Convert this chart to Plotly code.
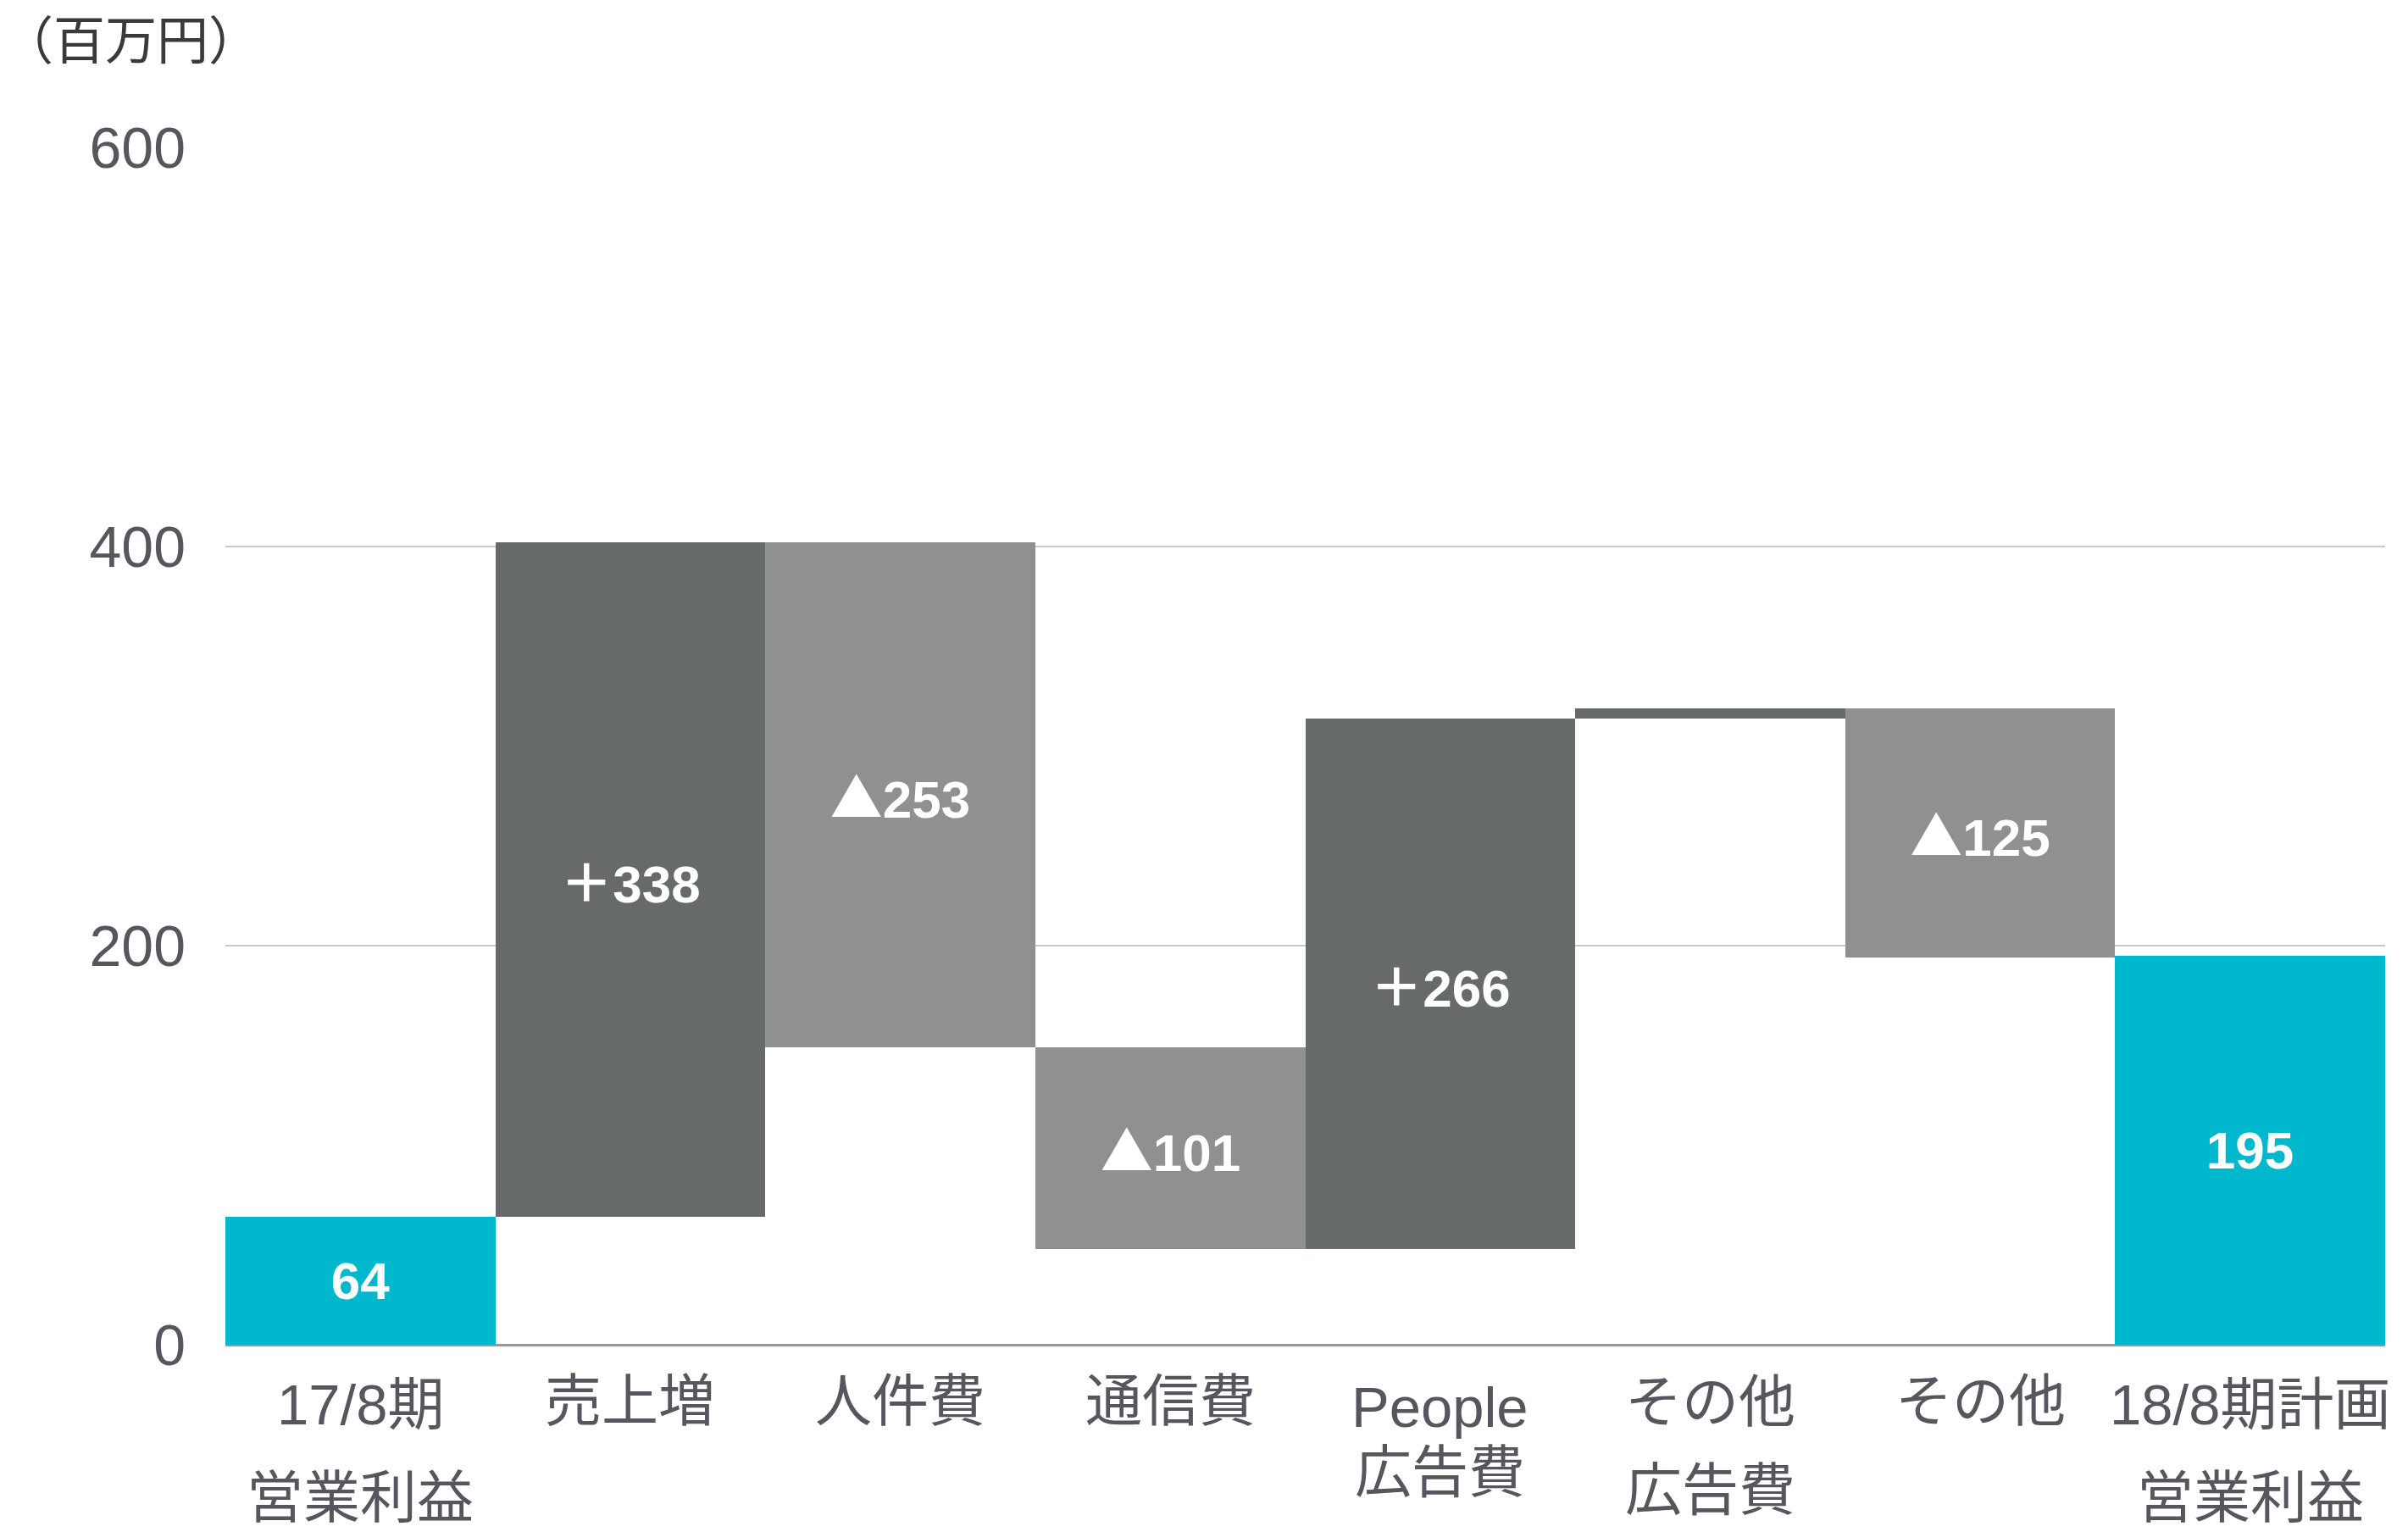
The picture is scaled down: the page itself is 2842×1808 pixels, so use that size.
import plotly.graph_objects as go

# Operating profit bridge, FY17/8 actual -> FY18/8 plan (million yen)
categories = ["17/8期<br>営業利益", "売上増", "人件費", "通信費",
              "People<br>広告費", "その他<br>広告費", "その他", "18/8期計画<br>営業利益"]
measures = ["absolute", "relative", "relative", "relative",
            "relative", "relative", "relative", "absolute"]
values = [64, 338, -253, -101, 266, 5, -125, 195]
bar_labels = ["64", "＋338", "▲253", "▲101", "＋266", "", "▲125", "195"]
y_ticks = [0, 200, 400, 600]
unit_label = "（百万円）"

W, H = 2842, 1808
ML, MR, MT, MB = 266, 27, 174, 221
PLOT_H = H - MT - MB

TEAL = "#00b8cd"
DARK = "#676a6b"
LIGHT = "#8e918f"
TEXT = "#56565e"
CJK = "Noto Sans CJK JP"


def paper_y(py):
    return (H - MB - py) / PLOT_H


def paper_x(px):
    return (px - ML) / (W - ML - MR)


def styled(label):
    # full-width sign glyphs come from the CJK face, digits from the Latin one
    for sym in ("＋", "▲"):
        label = label.replace(sym, f'<span style="font-family:{CJK}">{sym}</span>')
    return label


fig = go.Figure(go.Waterfall(
    x=categories,
    y=values,
    measure=measures,
    text=[styled(t) for t in bar_labels],
    textposition="inside",
    insidetextanchor="middle",
    textangle=0,
    constraintext="none",
    insidetextfont=dict(family="Liberation Sans, Arial, sans-serif",
                        size=62, color="white", weight="bold"),
    increasing=dict(marker=dict(color=DARK, line=dict(width=0))),
    decreasing=dict(marker=dict(color=LIGHT, line=dict(width=0))),
    totals=dict(marker=dict(color=TEAL, line=dict(width=0))),
    connector=dict(visible=False),
    hoverinfo="skip",
))

# category labels, one annotation per text line (pixel centre of each line)
label_rows = {
    "17/8期<br>営業利益": [1658, 1767],
    "売上増": [1653],
    "人件費": [1653],
    "通信費": [1653],
    "People<br>広告費": [1660, 1737],
    "その他<br>広告費": [1655, 1758],
    "その他": [1653],
    "18/8期計画<br>営業利益": [1658, 1767],
}
annotations = []
for cat in categories:
    for line, py in zip(cat.split("<br>"), label_rows[cat]):
        annotations.append(dict(
            x=cat, xref="x", y=paper_y(py), yref="paper",
            text=line, showarrow=False, xanchor="center", yanchor="middle",
            font=dict(family=f"Liberation Sans, {CJK}, sans-serif",
                      size=67, color=TEXT),
        ))

annotations.append(dict(
    x=paper_x(0), xref="paper", y=paper_y(44), yref="paper",
    text=unit_label, showarrow=False, xanchor="left", yanchor="middle",
    font=dict(family=f"{CJK}, sans-serif", size=61, color="#3a3a3a"),
))

fig.update_layout(
    width=W, height=H,
    margin=dict(l=ML, r=MR, t=MT, b=MB, pad=0),
    paper_bgcolor="white", plot_bgcolor="white",
    waterfallgap=0,
    showlegend=False,
    annotations=annotations,
    xaxis=dict(range=[-0.5, len(categories) - 0.5],
               showticklabels=False, showgrid=False, zeroline=False,
               showline=False, ticks=""),
    yaxis=dict(range=[0, 600], tickvals=y_ticks,
               showgrid=True, gridcolor="#c9c9cb", gridwidth=2,
               zeroline=True, zerolinecolor="#98989c", zerolinewidth=3,
               showline=False, ticks="", ticklabelstandoff=46,
               tickfont=dict(family="Liberation Sans, Arial, sans-serif",
                             size=68, color=TEXT)),
)

fig.write_html("out.html")
